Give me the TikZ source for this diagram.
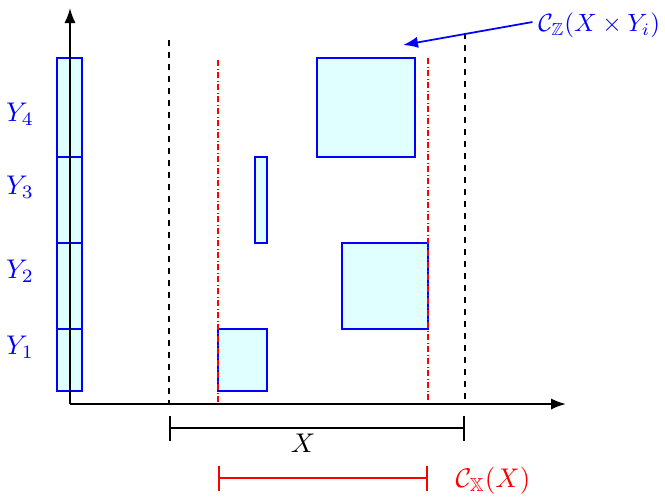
\documentclass[tikz,border=0pt]{standalone}
\usepackage{amsmath,amssymb}
\usetikzlibrary{arrows.meta}
\definecolor{boxfill}{RGB}{224,255,255}
\begin{document}
\begin{tikzpicture}[x=0.4pt,y=-0.4pt,
  cell/.style={draw=blue,fill=boxfill,line width=0.6pt},
  axis/.style={line width=0.8pt,-{Latex[length=6pt,width=4.5pt]}},
  blackdash/.style={line width=0.6pt,dash pattern=on 2.4pt off 2.4pt},
  reddash/.style={red,line width=0.6pt,dash pattern=on 2.4pt off 1pt on 0.4pt off 1pt},
  lab/.style={scale=1.08},
  ylab/.style={lab,text=blue},
  brk/.style={line width=0.7pt}]
\useasboundingbox (0,0) rectangle (665,496);
% left column
\draw[cell] (57,58) rectangle (82,157);
\draw[cell] (57,157) rectangle (82,243);
\draw[cell] (57,243) rectangle (82,329);
\draw[cell] (57,329) rectangle (82,391);
% boxes
\draw[cell] (317,58) rectangle (415,157);
\draw[cell] (255,157) rectangle (267,243);
\draw[cell] (342,243) rectangle (428,329);
\draw[cell] (218,329) rectangle (267,391);
% vertical lines
\draw[blackdash] (169,40) -- (169,404);
\draw[blackdash] (465,33) -- (465,404);
\draw[reddash] (218,60) -- (218,404);
\draw[reddash] (428,58) -- (428,404);
% axes
\coordinate (O) at (70,404);
\coordinate (ytop) at (70,8);
\coordinate (xend) at (566,404);
\draw[axis] (O) -- (ytop);
\draw[axis] (O) -- (xend);
% Y labels
\node[ylab] (y4) at (20,114) {$Y_4$};
\node[ylab] (y3) at (20,187) {$Y_3$};
\node[ylab] (y2) at (20,271) {$Y_2$};
\node[ylab] (y1) at (20,347) {$Y_1$};
% brackets
\coordinate (bl) at (169,428);
\coordinate (br) at (465,428);
\draw[brk,{|[width=10pt]}-{|[width=10pt]}] (bl) -- (br);
\node[lab] (xl) at (303,443) {$X$};
\coordinate (rl) at (218,478);
\coordinate (rr) at (428,478);
\draw[brk,red,{|[width=10pt]}-{|[width=10pt]}] (rl) -- (rr);
\node[lab,red,anchor=west] (cx) at (446,481) {$\mathcal{C}_{\mathbb{X}}(X)$};
% top label and arrow
\node[blue,anchor=east,inner sep=1pt] (cz) at (663,25) {$\mathcal{C}_{\mathbb{Z}}(X\times Y_i)$};
\coordinate (ctip) at (403,45);
\draw[blue,line width=0.7pt,-{Latex[length=6pt,width=4.5pt]}] (cz.west) ++(-3,-3) -- (ctip);
\end{tikzpicture}
\end{document}
